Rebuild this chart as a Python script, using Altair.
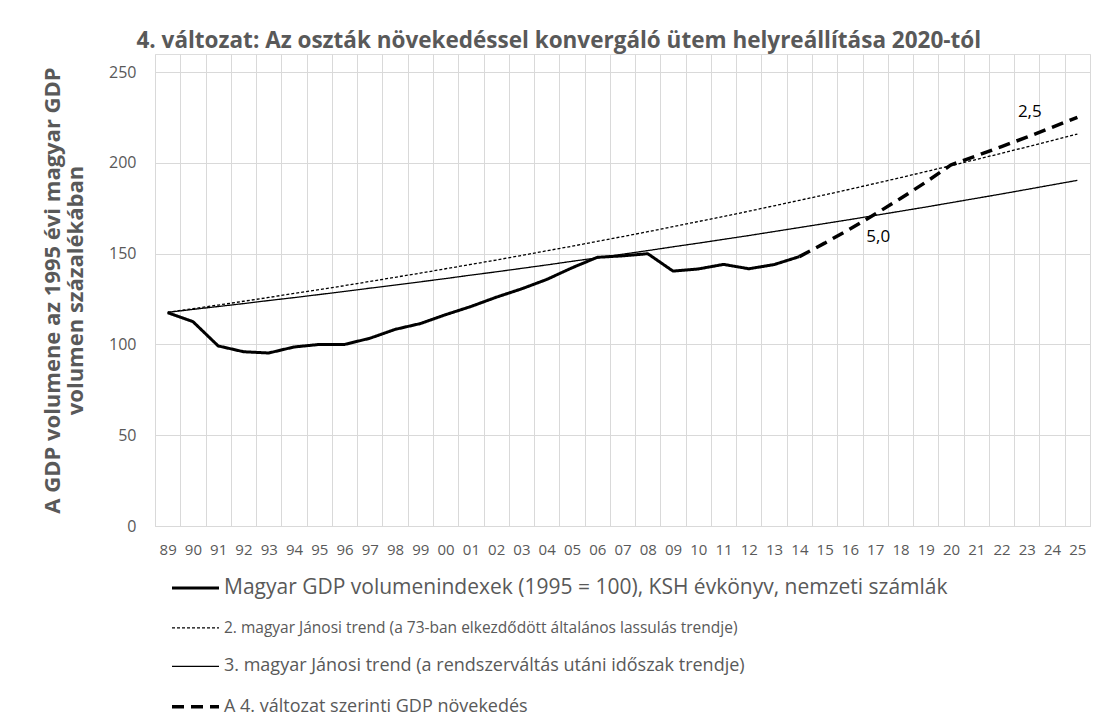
import altair as alt
import pandas as pd

years = ["89", "90", "91", "92", "93", "94", "95", "96", "97", "98", "99",
         "00", "01", "02", "03", "04", "05", "06", "07", "08", "09", "10",
         "11", "12", "13", "14", "15", "16", "17", "18", "19", "20", "21",
         "22", "23", "24", "25"]

s1 = "Magyar GDP volumenindexek (1995 = 100), KSH évkönyv, nemzeti számlák"
s2 = "2. magyar Jánosi trend (a 73-ban elkezdődött általános lassulás trendje)"
s3 = "3. magyar Jánosi trend (a rendszerváltás utáni időszak trendje)"
s4 = "A 4. változat szerinti GDP növekedés"
series_names = [s1, s2, s3, s4]

# 1989-2014 actual GDP volume index
gdp_years = years[:26]
gdp = [117.5, 112.6, 99.2, 96.0, 95.3, 98.6, 100.0, 100.0, 103.4, 108.3,
       111.5, 116.4, 120.9, 126.0, 130.6, 135.8, 142.2, 148.0, 148.8, 150.0,
       140.4, 141.6, 144.1, 141.7, 144.0, 148.4]

# 2. Jánosi trend (1989-2025)
trend2 = [117.7, 119.7, 121.7, 123.8, 125.9, 128.1, 130.2, 132.4, 134.7,
          137.0, 139.3, 141.7, 144.1, 146.5, 149.0, 151.6, 154.1, 156.8,
          159.4, 162.1, 164.9, 167.7, 170.5, 173.4, 176.4, 179.4, 182.4,
          185.5, 188.7, 191.9, 195.2, 198.5, 201.9, 205.3, 208.8, 212.3,
          215.9]

# 3. Jánosi trend (1989-2025)
trend3 = [117.7, 119.3, 120.9, 122.5, 124.2, 125.8, 127.5, 129.2, 131.0,
          132.7, 134.5, 136.3, 138.2, 140.0, 141.9, 143.8, 145.8, 147.7,
          149.7, 151.7, 153.8, 155.8, 157.9, 160.0, 162.2, 164.4, 166.6,
          168.8, 171.1, 173.4, 175.7, 178.1, 180.5, 182.9, 185.4, 187.9,
          190.4]

# 4. scenario (2014-2025)
scen_years = years[25:]
scenario = [148.4, 155.8, 163.6, 171.8, 180.4, 189.4, 198.9, 203.9, 209.0,
            214.2, 219.6, 225.1]

ann_years = ["17", "23"]
ann_values = [159.0, 228.0]
ann_texts = ["5,0", "2,5"]

rows = []
for y, v in zip(years, trend2):
    rows.append({"year": y, "value": v, "series": s2})
for y, v in zip(years, trend3):
    rows.append({"year": y, "value": v, "series": s3})
for y, v in zip(gdp_years, gdp):
    rows.append({"year": y, "value": v, "series": s1})
for y, v in zip(scen_years, scenario):
    rows.append({"year": y, "value": v, "series": s4})
df = pd.DataFrame(rows)

ann = pd.DataFrame({"year": ann_years, "value": ann_values, "label": ann_texts})

FONT = "Open Sans"
GRAY = "#595959"
GRID = "#d9d9d9"
H = 472

x_enc = alt.X(
    "year:O",
    sort=years,
    scale=alt.Scale(type="band", paddingInner=0, paddingOuter=0),
    bandPosition=0.5,
    axis=alt.Axis(
        title=None, labelAngle=0, tickBand="extent", grid=True,
        gridColor=GRID, gridWidth=1, ticks=False, domainColor=GRID,
        labelColor=GRAY, labelFontSize=15, labelFont=FONT, labelPadding=16,
    ),
)
y_enc = alt.Y(
    "value:Q",
    scale=alt.Scale(domain=[0, 250]),
    axis=alt.Axis(
        title=["A GDP volumene az 1995 évi magyar GDP", "volumen százalékában"],
        titleFont=FONT, titleFontSize=22, titleFontWeight="bold",
        titleColor=GRAY, titlePadding=21, titleLineHeight=23,
        values=[0, 50, 100, 150, 200, 250], gridColor=GRID, domain=False,
        ticks=False, labelColor=GRAY, labelFontSize=16, labelFont=FONT,
        labelPadding=19,
    ),
)

legend = alt.Legend(
    title=None, orient="none", legendX=15, legendY=H + 37,
    direction="vertical", symbolType="stroke", symbolSize=2209,
    symbolStrokeColor="black", labelFont=FONT,
    labelFontSize={"expr": "datum.index == 0 ? 21 : (datum.index == 1 ? 15.5 : 18)"},
    labelColor=GRAY, labelOffset=3, rowPadding=5.4, padding=0,
    labelLimit=1000,
)

lines = alt.Chart(df).mark_line(
    strokeCap="butt", strokeJoin="round", color="black"
).encode(
    x=x_enc,
    y=y_enc,
    strokeDash=alt.StrokeDash(
        "series:N",
        scale=alt.Scale(domain=series_names,
                        range=[[1, 0], [3, 2], [1, 0], [12, 7]]),
        legend=legend,
    ),
    strokeWidth=alt.StrokeWidth(
        "series:N",
        scale=alt.Scale(type="ordinal", domain=series_names,
                        range=[3, 1.3, 1.3, 3.5]),
        legend=legend,
    ),
)

labels = alt.Chart(ann).mark_text(
    font=FONT, fontSize=17, color="black", dx=3
).encode(
    x=alt.X("year:O", sort=years),
    y=alt.Y("value:Q"),
    text="label:N",
)

chart = alt.layer(lines, labels).properties(
    width=935,
    height=H,
    padding={"left": 33, "top": 21, "right": 5, "bottom": 5},
    title=alt.TitleParams(
        "4. változat: Az oszták növekedéssel konvergáló ütem helyreállítása 2020-tól",
        font=FONT, fontSize=22.5, fontWeight="bold", color=GRAY,
        anchor="middle", frame="bounds", offset=2, dx=-7,
    ),
).configure_view(stroke=None).configure(background="white")

chart.save("out.html", embed_options={"renderer": "svg", "actions": False})
